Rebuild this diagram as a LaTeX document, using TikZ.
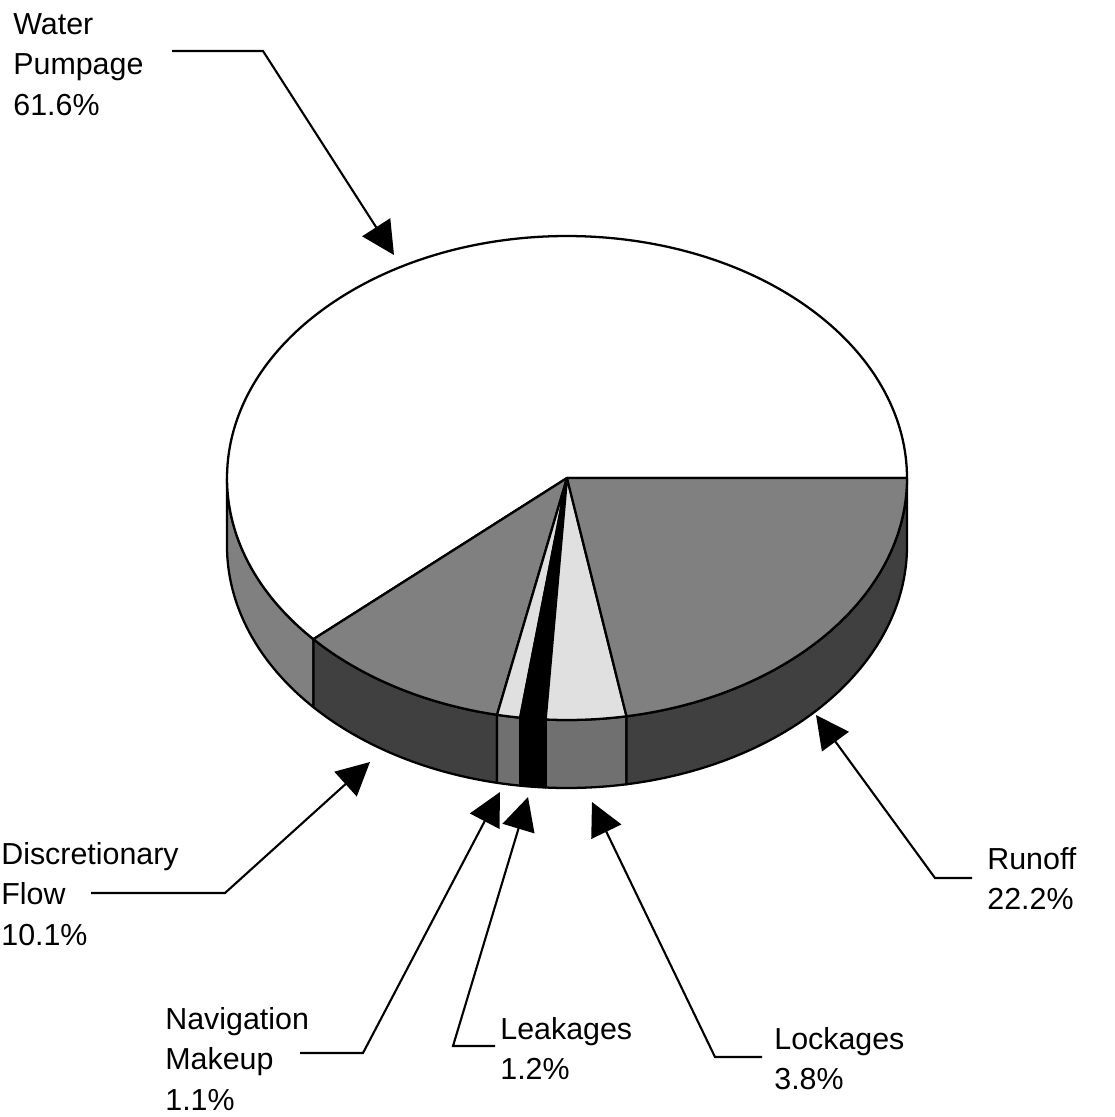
\documentclass[tikz,border=0pt]{standalone}
\usepackage{fontspec}
\setmainfont{Liberation Sans}
\usetikzlibrary{calc,arrows.meta}
\definecolor{pieMid}{gray}{0.5}
\definecolor{pieDark}{gray}{0.25}
\definecolor{pieLight}{gray}{0.88}
\definecolor{pieLightSide}{gray}{0.44}
\def\prx{340}
\def\pry{242}
\def\pdepth{68}
\def\pietop[#1](#2:#3){\filldraw[#1] (c) -- ($(c)+(#2:{\prx} and {\pry})$) arc[start angle=#2, end angle=#3, x radius=\prx, y radius=\pry] -- cycle;}
\def\pieside[#1](#2:#3){\filldraw[#1] ($(c)+(#2:{\prx} and {\pry})$) arc[start angle=#2, end angle=#3, x radius=\prx, y radius=\pry] -- ++(0,\pdepth) arc[start angle=#3, end angle=#2, x radius=\prx, y radius=\pry] -- cycle;}
\tikzset{
	slice/.style={draw=black, line width=1.3pt, line join=round},
	leader/.style={line width=1.2pt, -{Triangle[length=0.66cm, width=0.66cm]}},
	lbl/.style={anchor=north west, inner sep=0pt, align=left, font=\fontsize{17.3}{23}\selectfont}
}

\begin{document}
\begin{tikzpicture}[x=0.02cm, y=-0.02cm]
			%%%%% START %%%%%
			\useasboundingbox (0, 0) rectangle (1115, 1117);
			\coordinate (c) at (567, 478);
			
			% sides
			\pieside[slice, fill=pieMid](138.24:180);
			\pieside[slice, fill=pieDark](101.88:138.24);
			\pieside[slice, fill=pieLightSide](97.92:101.88);
			\pieside[slice, fill=black](93.6:97.92);
			\pieside[slice, fill=pieLightSide](79.92:93.6);
			\pieside[slice, fill=pieDark](0:79.92);
			
			% tops
			\pietop[slice, fill=white](138.24:360);
			\pietop[slice, fill=pieMid](101.88:138.24);
			\pietop[slice, fill=pieLight](97.92:101.88);
			\pietop[slice, fill=black](93.6:97.92);
			\pietop[slice, fill=pieLight](79.92:93.6);
			\pietop[slice, fill=pieMid](0:79.92);
			
			% labels
			\node[lbl] (pump) at (13, 13) {Water\\Pumpage\\61.6\%};
			\node[lbl] (disc) at (1, 842) {Discretionary\\Flow\\10.1\%};
			\node[lbl] (navi) at (165, 1007) {Navigation\\Makeup\\1.1\%};
			\node[lbl] (leak) at (500, 1017) {Leakages\\1.2\%};
			\node[lbl] (lock) at (774, 1027) {Lockages\\3.8\%};
			\node[lbl] (run) at (987, 847) {Runoff\\22.2\%};
			
			\coordinate (pumpA) at (172, 51);
			\coordinate (pumpB) at (263, 51);
			\coordinate (pumpC) at (394, 255);
			\coordinate (discA) at (91, 893);
			\coordinate (discB) at (225, 893);
			\coordinate (discC) at (370, 762);
			\coordinate (naviA) at (300, 1053);
			\coordinate (naviB) at (363, 1053);
			\coordinate (naviC) at (500, 792);
			\coordinate (leakA) at (495, 1046);
			\coordinate (leakB) at (453, 1046);
			\coordinate (leakC) at (528, 797);
			\coordinate (lockA) at (762, 1057);
			\coordinate (lockB) at (715, 1057);
			\coordinate (lockC) at (592, 802);
			\coordinate (runA) at (972, 878);
			\coordinate (runB) at (935, 878);
			\coordinate (runC) at (816, 715);
			
			\draw[leader] (pumpA) -- (pumpB) -- (pumpC);
			\draw[leader] (discA) -- (discB) -- (discC);
			\draw[leader] (naviA) -- (naviB) -- (naviC);
			\draw[leader] (leakA) -- (leakB) -- (leakC);
			\draw[leader] (lockA) -- (lockB) -- (lockC);
			\draw[leader] (runA) -- (runB) -- (runC);
			%%%%% END %%%%%
		\end{tikzpicture}
\end{document}
